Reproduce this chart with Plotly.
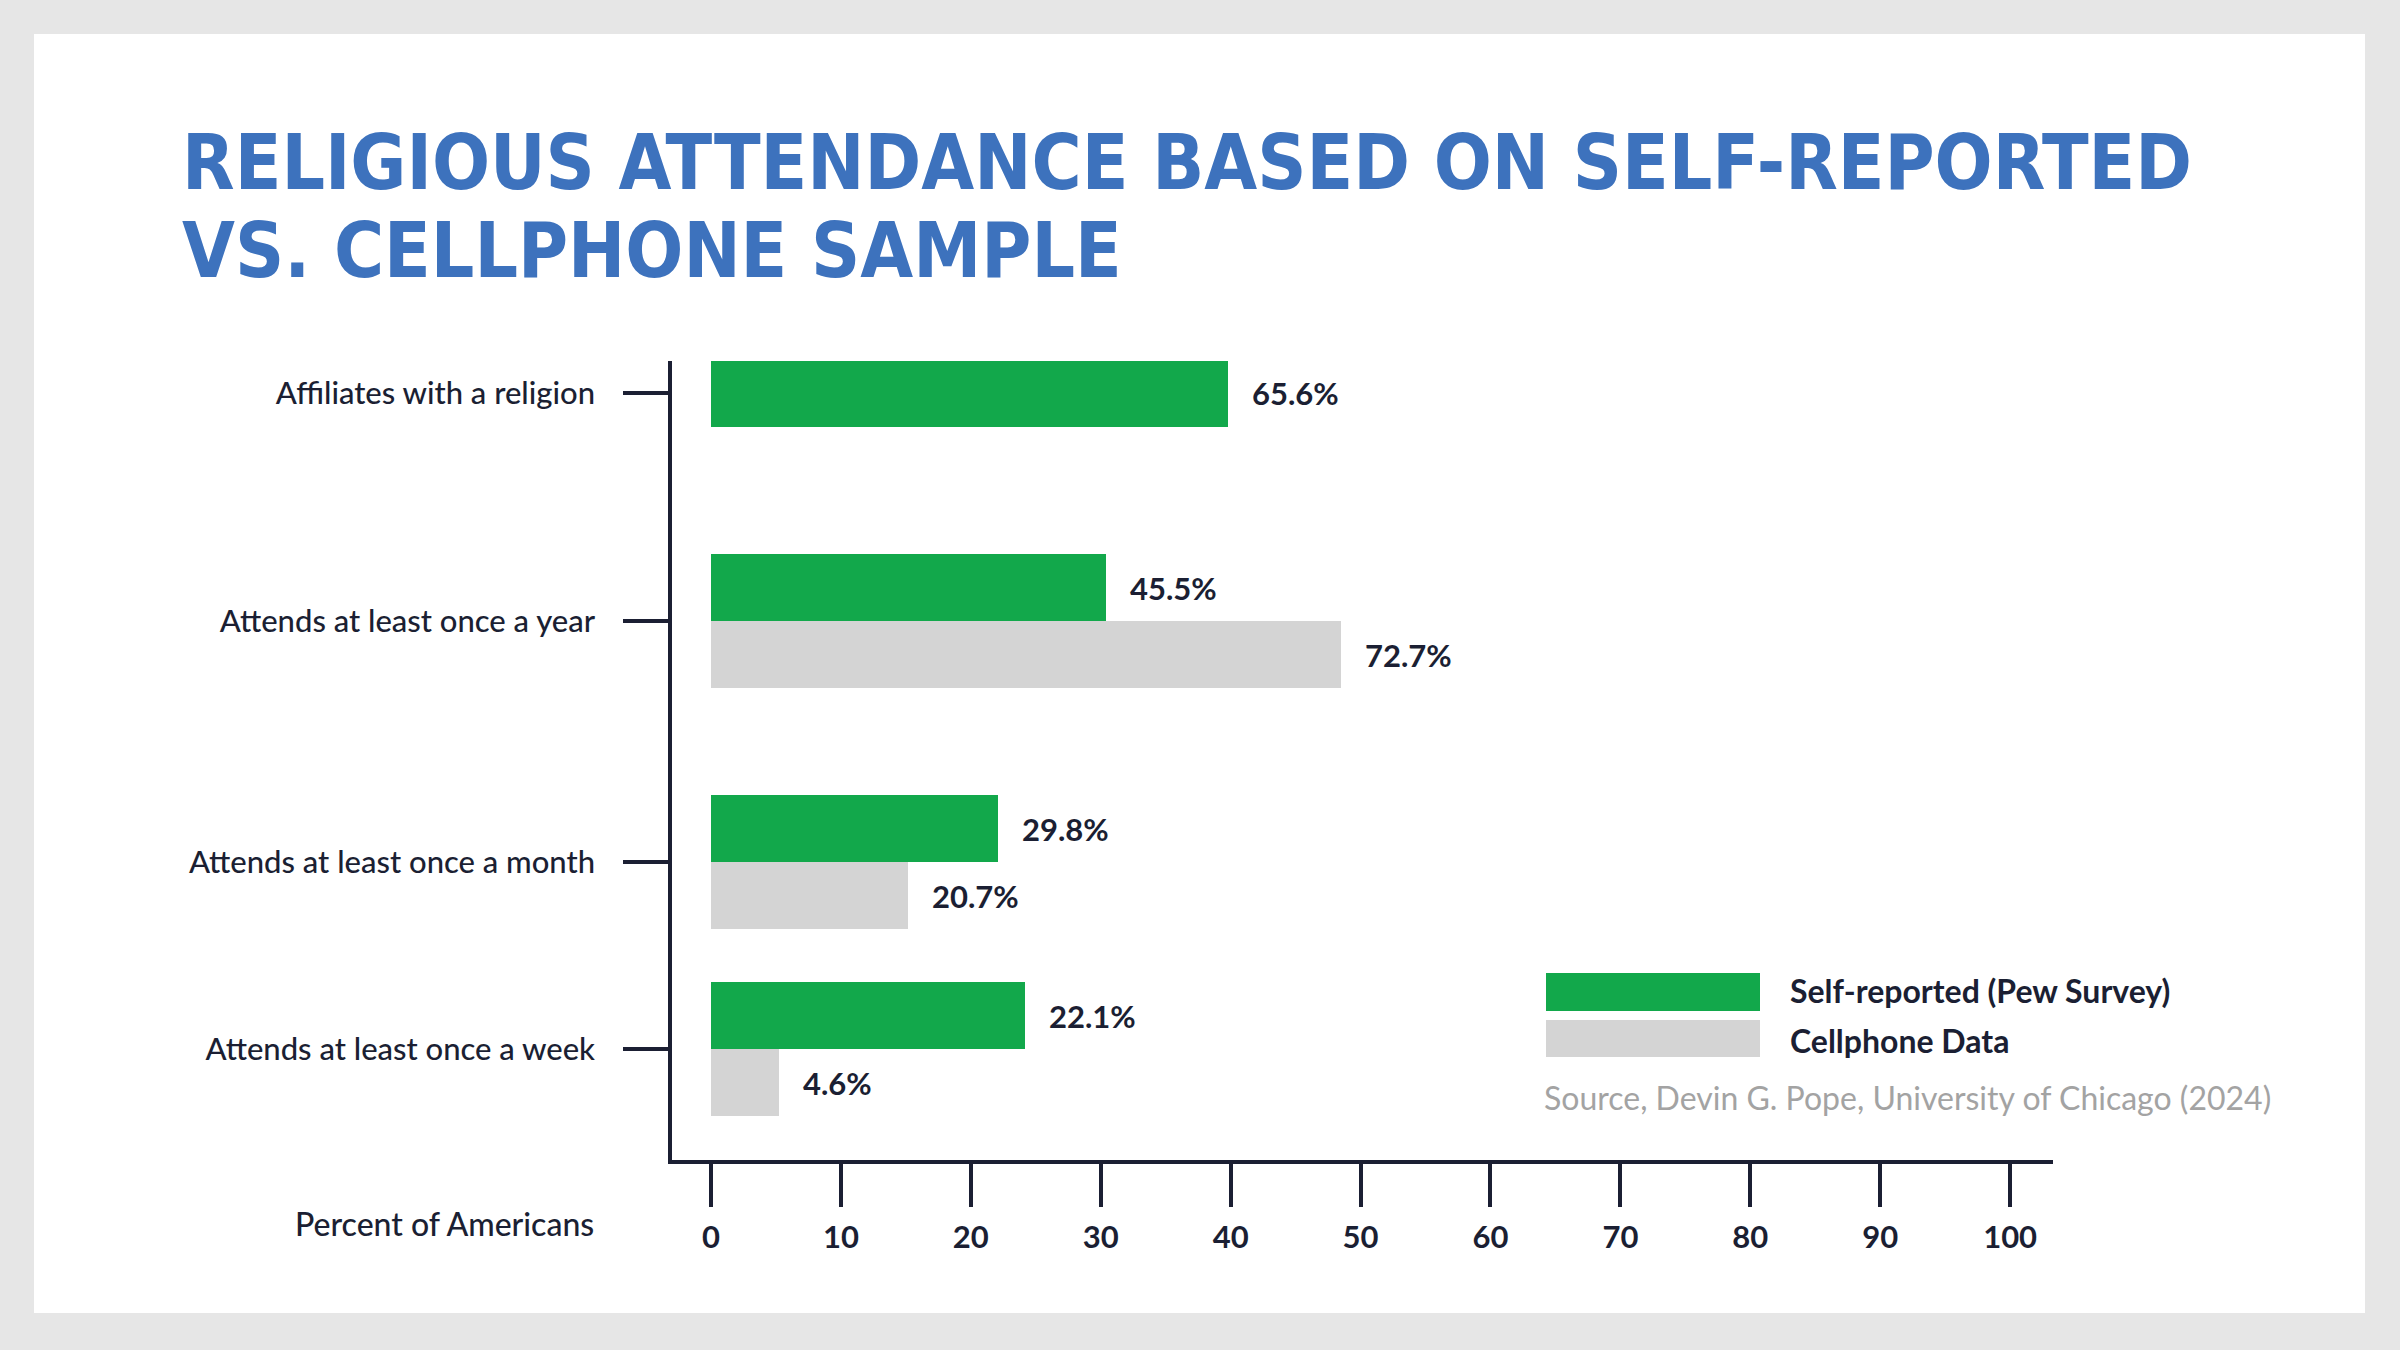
import plotly.graph_objects as go

# data
categories = ["Affiliates with a religion", "Attends at least once a year",
              "Attends at least once a month", "Attends at least once a week"]
self_reported = [39.8, 30.4, 22.1, 24.2]      # bar length on the axis
self_labels = ["65.6%", "45.5%", "29.8%", "22.1%"]
cellphone = [None, 48.5, 15.2, 5.2]
cell_labels = [None, "72.7%", "20.7%", "4.6%"]
x_ticks = [0, 10, 20, 30, 40, 50, 60, 70, 80, 90, 100]

title_1 = "RELIGIOUS ATTENDANCE BASED ON SELF-REPORTED"
title_2 = "VS. CELLPHONE SAMPLE"
x_title = "Percent of Americans"
legend_names = ["Self-reported (Pew Survey)", "Cellphone Data"]
source = "Source, Devin G. Pope, University of Chicago (2024)"

GREEN = "#12a84b"
GRAY = "#d4d4d4"
INK = "#1b1f33"
BLUE = "#3d72bd"
FONT = "Lato, 'Open Sans', sans-serif"
TITLE_FONT = "'DejaVu Sans Condensed', 'DejaVu Sans', sans-serif"

W_PX, H_PX = 2400, 1350
L, R, T, B = 672, 347, 361, 190
PW = W_PX - L - R
PH = H_PX - T - B

def px_x(p):
    return (p - L) / PW

def px_y(p):
    return (H_PX - B - p) / PH

# row centres (px from top of plot area) and bar thickness
row_pos = [32, 260, 501, 688]
bar_h = 67
green_off = [-bar_h / 2] + [-bar_h] * 3

fig = go.Figure()

fig.add_trace(go.Bar(
    x=self_reported, y=row_pos, orientation="h",
    width=bar_h, offset=green_off,
    marker=dict(color=GREEN, line=dict(width=0)),
    name=legend_names[0], hoverinfo="skip"
))
fig.add_trace(go.Bar(
    x=cellphone, y=row_pos, orientation="h",
    width=bar_h, offset=0,
    marker=dict(color=GRAY, line=dict(width=0)),
    name=legend_names[1], hoverinfo="skip"
))

val_font = dict(family=FONT, size=31, color=INK, weight="bold")
annots = []
for i in range(len(categories)):
    yc = row_pos[i] + green_off[i] + bar_h / 2
    annots.append(dict(x=self_reported[i], y=yc, xref="x", yref="y",
                       text=self_labels[i], showarrow=False, xanchor="left",
                       yanchor="middle", xshift=22, font=val_font))
    if cellphone[i] is not None:
        annots.append(dict(x=cellphone[i], y=row_pos[i] + bar_h / 2, xref="x", yref="y",
                           text=cell_labels[i], showarrow=False, xanchor="left",
                           yanchor="middle", xshift=22, font=val_font))

# title
title_font = dict(family=TITLE_FONT, size=76, color=BLUE, weight="bold")
annots.append(dict(x=px_x(180), y=px_y(162), xref="paper", yref="paper", text=title_1,
                   showarrow=False, xanchor="left", yanchor="middle", font=title_font))
annots.append(dict(x=px_x(180), y=px_y(250), xref="paper", yref="paper", text=title_2,
                   showarrow=False, xanchor="left", yanchor="middle", font=title_font))

annots.append(dict(x=px_x(596), y=px_y(1223), xref="paper", yref="paper", text=x_title,
                   showarrow=False, xanchor="right", yanchor="middle",
                   font=dict(family=FONT, size=32, color=INK, weight=500)))

# legend drawn by hand
shapes = [
    dict(type="rect", xref="paper", yref="paper", layer="below",
         x0=px_x(34), x1=px_x(2365), y0=px_y(34), y1=px_y(1313),
         fillcolor="white", line=dict(width=0)),
    dict(type="rect", xref="paper", yref="paper",
         x0=px_x(1546), x1=px_x(1760), y0=px_y(973), y1=px_y(1011),
         fillcolor=GREEN, line=dict(width=0)),
    dict(type="rect", xref="paper", yref="paper",
         x0=px_x(1546), x1=px_x(1760), y0=px_y(1020), y1=px_y(1057),
         fillcolor=GRAY, line=dict(width=0)),
]
leg_font = dict(family=FONT, size=32, color=INK, weight="bold")
annots.append(dict(x=px_x(1788), y=px_y(990), xref="paper", yref="paper", text=legend_names[0],
                   showarrow=False, xanchor="left", yanchor="middle", font=leg_font))
annots.append(dict(x=px_x(1788), y=px_y(1040), xref="paper", yref="paper", text=legend_names[1],
                   showarrow=False, xanchor="left", yanchor="middle", font=leg_font))
annots.append(dict(x=px_x(1542), y=px_y(1097), xref="paper", yref="paper", text=source,
                   showarrow=False, xanchor="left", yanchor="middle",
                   font=dict(family=FONT, size=32, color="#a3a3a3")))

fig.update_layout(
    width=W_PX, height=H_PX,
    margin=dict(l=L, r=R, t=T, b=B, pad=0),
    paper_bgcolor="#e6e6e6", plot_bgcolor="rgba(0,0,0,0)",
    showlegend=False, barmode="overlay", bargap=0,
    annotations=annots, shapes=shapes,
    xaxis=dict(range=[-3.0, 103.3], tickvals=x_ticks, showgrid=False, zeroline=False,
               showline=True, linecolor=INK, linewidth=3.5,
               ticks="outside", ticklen=43, tickwidth=3.5, tickcolor=INK,
               ticklabelstandoff=4,
               tickfont=dict(family=FONT, size=31, color=INK, weight="bold")),
    yaxis=dict(range=[PH, 0], tickvals=row_pos, ticktext=categories, showgrid=False,
               zeroline=False, showline=True, linecolor=INK, linewidth=3.5,
               ticks="outside", ticklen=45, tickwidth=3.5, tickcolor=INK,
               ticklabelstandoff=22,
               tickfont=dict(family=FONT, size=31, color=INK, weight=500)),
)

# drop the browser's default page margin so the figure sits at 0,0
fig.write_html("out.html", config={"displayModeBar": False},
               post_script="document.body.style.margin='0';")
